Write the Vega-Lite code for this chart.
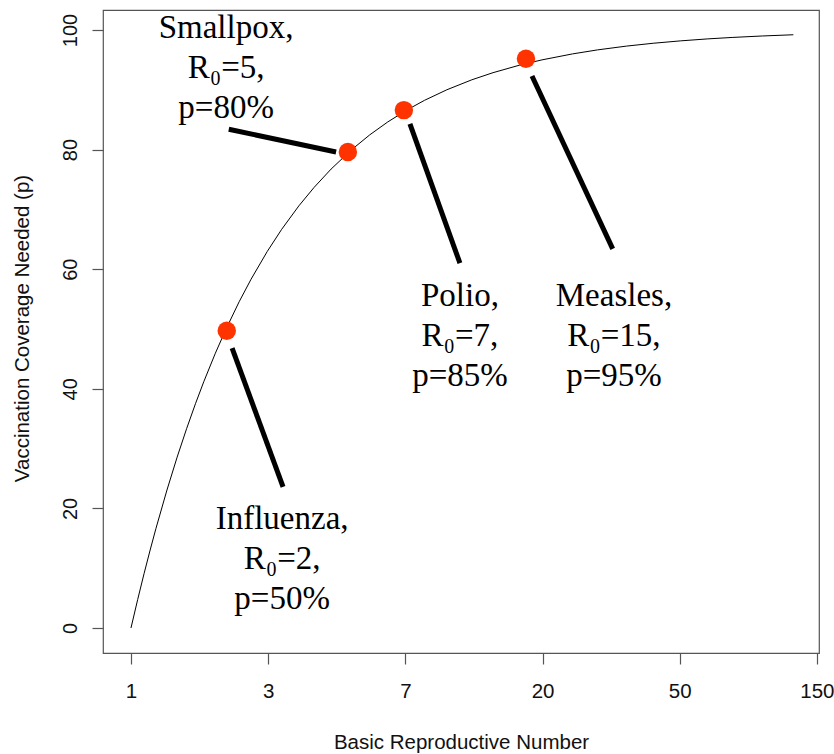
{
  "$schema": "https://vega.github.io/schema/vega-lite/v6.json",
  "width": 716,
  "height": 643,
  "autosize": {"type": "none"},
  "padding": {"left": 103, "top": 10, "right": 15, "bottom": 101},
  "background": "white",
  "config": {
    "view": {"stroke": "#555555", "strokeWidth": 1.2},
    "axis": {"grid": false, "domain": false, "tickColor": "#555555", "tickSize": 11, "tickWidth": 1.2,
      "labelFont": "Liberation Sans", "titleFont": "Liberation Sans", "labelColor": "#111111", "titleColor": "#111111", "titleFontWeight": "normal"}
  },
  "datasets": {
    "curve": [
      {"R": 1, "p": 0}, {"R": 1.05, "p": 4.76}, {"R": 1.1, "p": 9.09}, {"R": 1.15, "p": 13.04}, {"R": 1.2, "p": 16.67},
      {"R": 1.3, "p": 23.08}, {"R": 1.4, "p": 28.57}, {"R": 1.5, "p": 33.33}, {"R": 1.6, "p": 37.5},
      {"R": 1.7, "p": 41.18}, {"R": 1.85, "p": 45.95}, {"R": 2, "p": 50}, {"R": 2.2, "p": 54.55}, {"R": 2.4, "p": 58.33},
      {"R": 2.7, "p": 62.96}, {"R": 3, "p": 66.67}, {"R": 3.4, "p": 70.59}, {"R": 3.8, "p": 73.68},
      {"R": 4.3, "p": 76.74}, {"R": 5, "p": 80}, {"R": 5.7, "p": 82.46}, {"R": 6.5, "p": 84.62},
      {"R": 7.5, "p": 86.67}, {"R": 8.5, "p": 88.24}, {"R": 10, "p": 90}, {"R": 12, "p": 91.67},
      {"R": 14, "p": 92.86}, {"R": 17, "p": 94.12}, {"R": 20, "p": 95}, {"R": 25, "p": 96},
      {"R": 30, "p": 96.67}, {"R": 37, "p": 97.3}, {"R": 45, "p": 97.78}, {"R": 55, "p": 98.18},
      {"R": 67, "p": 98.51}, {"R": 80, "p": 98.75}, {"R": 100, "p": 99}, {"R": 125, "p": 99.2}
    ],
    "leaders": [
      {"disease": "Smallpox", "x1": 2.04, "y1": 83.4, "x2": 4.46, "y2": 79.6},
      {"disease": "Influenza", "x1": 2.09, "y1": 46.8, "x2": 3.03, "y2": 23.6},
      {"disease": "Polio", "x1": 7.64, "y1": 84.3, "x2": 11.0, "y2": 61.0},
      {"disease": "Measles", "x1": 18.6, "y1": 92.3, "x2": 33.5, "y2": 63.4}
    ],
    "points": [
      {"disease": "Influenza", "R": 2.01, "p": 49.7},
      {"disease": "Smallpox", "R": 4.86, "p": 79.6},
      {"disease": "Polio", "R": 7.31, "p": 86.6},
      {"disease": "Measles", "R": 17.8, "p": 95.2}
    ],
    "labels": [
      {"disease": "Smallpox", "R": 2.0, "p": 100.3, "label": "Smallpox,\nR₀=5,\np=80%"},
      {"disease": "Polio", "R": 11.0, "p": 55.5, "label": "Polio,\nR₀=7,\np=85%"},
      {"disease": "Measles", "R": 33.8, "p": 55.5, "label": "Measles,\nR₀=15,\np=95%"},
      {"disease": "Influenza", "R": 3.01, "p": 18.3, "label": "Influenza,\nR₀=2,\np=50%"}
    ]
  },
  "layer": [
    {
      "data": {"name": "curve"},
      "mark": {"type": "line", "color": "black", "strokeWidth": 1, "clip": true},
      "encoding": {
        "x": {"field": "R", "type": "quantitative",
          "scale": {"type": "log", "base": 2.718281828, "domain": [0.8155, 150.7], "nice": false, "zero": false},
          "axis": {"title": "Basic Reproductive Number", "values": [1, 2.718281828, 7.389056, 20.085537, 54.59815, 148.41316],
            "labelExpr": "datum.value < 2 ? '1' : datum.value < 5 ? '3' : datum.value < 10 ? '7' : datum.value < 30 ? '20' : datum.value < 100 ? '50' : '150'",
            "labelFontSize": 20.5, "labelPadding": 17, "titleFontSize": 20.5, "titleBaseline": "alphabetic", "titleY": 95, "labelFlush": false}},
        "y": {"field": "p", "type": "quantitative",
          "scale": {"domain": [-4.18, 103.34], "nice": false, "zero": false},
          "axis": {"title": "Vaccination Coverage Needed (p)", "values": [0, 20, 40, 60, 80, 100],
            "labelAngle": -90, "labelAlign": "center", "labelBaseline": "middle", "labelPadding": 22, "labelFontSize": 20,
            "titleFontSize": 20.5, "titleX": -81, "titleY": 318, "titleAngle": -90, "titleBaseline": "middle", "titleAlign": "center"}}
      }
    },
    {
      "data": {"name": "leaders"},
      "mark": {"type": "rule", "color": "black", "strokeWidth": 5},
      "encoding": {
        "x": {"field": "x1", "type": "quantitative"},
        "y": {"field": "y1", "type": "quantitative"},
        "x2": {"field": "x2"},
        "y2": {"field": "y2"}
      }
    },
    {
      "data": {"name": "points"},
      "mark": {"type": "circle", "color": "#ff3300", "opacity": 1, "size": 340},
      "encoding": {
        "x": {"field": "R", "type": "quantitative"},
        "y": {"field": "p", "type": "quantitative"}
      }
    },
    {
      "data": {"name": "labels"},
      "mark": {"type": "text", "font": "Liberation Serif", "fontSize": 33, "lineHeight": 40, "lineBreak": "\n", "align": "center", "baseline": "middle", "color": "black"},
      "encoding": {
        "x": {"field": "R", "type": "quantitative"},
        "y": {"field": "p", "type": "quantitative"},
        "text": {"field": "label"}
      }
    }
  ]
}
